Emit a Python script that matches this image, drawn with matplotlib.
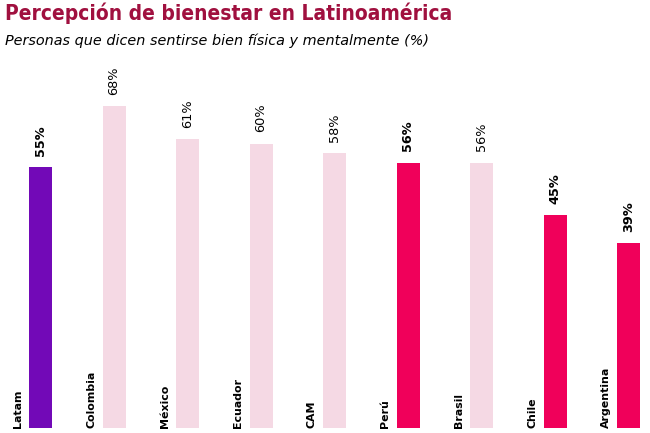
import matplotlib.pyplot as plt

# Data
countries = ["Latam", "Colombia", "México", "Ecuador", "CAM", "Perú", "Brasil", "Chile", "Argentina"]
values = [55, 68, 61, 60, 58, 56, 56, 45, 39]
labels = ["55%", "68%", "61%", "60%", "58%", "56%", "56%", "45%", "39%"]
highlight = ["latam", "other", "other", "other", "other", "hi", "other", "hi", "hi"]

colors = {"latam": "#7209B7", "hi": "#F0005A", "other": "#F5D9E4"}

W, H = 650, 433
fig = plt.figure(figsize=(W / 100, H / 100), dpi=100)

# axes placed in pixel terms: bottom of bars at y=428, top of axes at y=70
ax_bottom = 5
ax_top = 70
ax = fig.add_axes([0, ax_bottom / H, 1, (H - ax_top - ax_bottom) / H])
step = 73.5
x0 = 40.5
ax.set_xlim(-x0 / step, (W - x0) / step)
px_per_pct = 4.74
ax.set_ylim(0, (H - ax_top - ax_bottom) / px_per_pct)
ax.axis("off")

xs = list(range(len(countries)))
ax.bar(xs, values, width=23 / step, color=[colors[h] for h in highlight])

for x, v, lab, h in zip(xs, values, labels, highlight):
    bold = h != "other"
    ax.annotate(lab, (x, v), xytext=(0, 8), textcoords="offset points",
                rotation=90, ha="center", va="bottom", fontsize=9.3,
                family="DejaVu Sans", weight="bold" if bold else "normal",
                color="black")
    ax.annotate(countries[x], (x, 0), xytext=(-16.5, 0), textcoords="offset points",
                rotation=90, ha="center", va="bottom", fontsize=7.9,
                family="DejaVu Sans", weight="bold", color="black")

fig.text(5 / W, 1 - 2 / H, "Percepción de bienestar en Latinoamérica",
         ha="left", va="top", fontsize=15, weight="bold", color="#A0103F",
         family="DejaVu Sans", stretch="condensed")
fig.text(5 / W, 1 - 34 / H, "Personas que dicen sentirse bien física y mentalmente (%)",
         ha="left", va="top", fontsize=10.4, style="italic", color="black",
         family="DejaVu Sans")

fig.savefig("out.png", dpi=100)
